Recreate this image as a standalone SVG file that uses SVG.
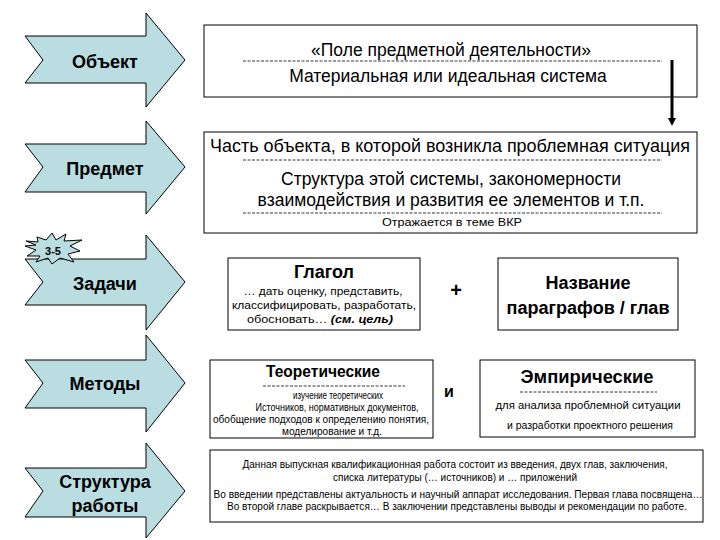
<svg xmlns="http://www.w3.org/2000/svg" width="720" height="540" viewBox="0 0 720 540">
<defs>
<style>
.arr{fill:#b9dde1;stroke:#000;stroke-width:1}
.box{fill:#fff;stroke:#000;stroke-width:1}
.dash{stroke:#000;stroke-width:0.8;stroke-dasharray:3,1.5}
text{font-family:"Liberation Sans",Arial,sans-serif;fill:#000;text-anchor:middle}
.al{font-size:18px;font-weight:bold}
.t18{font-size:17.5px}
.h18{font-size:18px;font-weight:bold}
.s11{font-size:11px}
.s10{font-size:10px}
</style>
<marker id="ah" markerWidth="8" markerHeight="8" refX="4" refY="4" orient="auto" markerUnits="userSpaceOnUse"><path d="M0,0 L8,4 L0,8 Z" fill="#000"/></marker>
</defs>
<rect width="720" height="540" fill="#fff"/>

<g id="arrow-obekt">
<path class="arr" d="M25,36 H146 V13 L185,60 L146,107 V83 H25 L43,60 Z"/>
<text class="al" x="105" y="68">Объект</text>
</g>
<g id="arrow-predmet">
<path class="arr" d="M25,144 H146 V121 L185,167 L146,214 V192 H25 L43,167 Z"/>
<text class="al" x="105" y="175">Предмет</text>
</g>
<g id="arrow-zadachi">
<path class="arr" d="M25,259 H146 V235 L185,282 L146,330 V305 H25 L43,282 Z"/>
<text class="al" x="105" y="290">Задачи</text>
</g>
<g id="star">
<path d="M26,241 L38,242 L37,237 L46,240 L52,233 L56,240 L66,234 L64,241 L82,240 L70,246 L80,251 L68,254 L74,262 L60,258 L52,264 L48,258 L36,262 L40,256 L27,256 L36,250 L25,246 L36,245 Z" fill="#b9dde1" stroke="#000" stroke-width="1"/>
<text x="53" y="255" style="font-size:11px;font-weight:bold">3-5</text>
</g>
<g id="arrow-metody">
<path class="arr" d="M25,360 H146 V335 L185,383 L146,432 V408 H25 L43,383 Z"/>
<text class="al" x="105" y="390">Методы</text>
</g>
<g id="arrow-struktura">
<path class="arr" d="M25,468 H146 V443 L185,491 L146,538 V517 H25 L43,491 Z"/>
<text class="al" x="105" y="488">Структура</text>
<text class="al" x="105" y="512">работы</text>
</g>

<g id="box-object">
<rect class="box" x="204" y="25" width="493" height="72"/>
<text class="t18" x="451" y="56">«Поле предметной деятельности»</text>
<line class="dash" x1="243" y1="61" x2="662" y2="61"/>
<text class="t18" x="448" y="82">Материальная или идеальная система</text>
</g>
<g id="box-predmet">
<rect class="box" x="204" y="132" width="493" height="101"/>
<text class="t18" x="450" y="152" textLength="480" lengthAdjust="spacingAndGlyphs">Часть объекта, в которой возникла проблемная ситуация</text>
<line class="dash" x1="243" y1="160" x2="662" y2="160"/>
<text class="t18" x="451" y="185">Структура этой системы, закономерности</text>
<text class="t18" x="451" y="206">взаимодействия и развития ее элементов и т.п.</text>
<line class="dash" x1="243" y1="213" x2="662" y2="213"/>
<text class="s11" x="452" y="226" textLength="140" lengthAdjust="spacingAndGlyphs">Отражается в теме ВКР</text>
</g>
<g id="box-glagol">
<rect class="box" x="228" y="258" width="192" height="72"/>
<text class="h18" x="324" y="278">Глагол</text>
<text class="s11" x="323" y="295" textLength="159" lengthAdjust="spacingAndGlyphs">… дать оценку, представить,</text>
<text class="s11" x="324" y="309" textLength="184" lengthAdjust="spacingAndGlyphs">классифицировать, разработать,</text>
<text class="s11" x="320" y="323" textLength="146" lengthAdjust="spacingAndGlyphs">обосновать… <tspan font-weight="bold" font-style="italic">(см. цель)</tspan></text>
</g>
<g id="plus"><text x="456" y="297" style="font-size:20px;font-weight:bold">+</text></g>
<g id="box-nazvanie">
<rect class="box" x="498" y="258" width="180" height="72"/>
<text class="h18" x="588" y="289">Название</text>
<text class="h18" x="588" y="314" textLength="163" lengthAdjust="spacingAndGlyphs">параграфов / глав</text>
</g>
<g id="box-teor">
<rect class="box" x="210" y="360" width="223" height="78"/>
<text x="323" y="377" style="font-size:16px;font-weight:bold" textLength="114" lengthAdjust="spacingAndGlyphs">Теоретические</text>
<line class="dash" x1="263" y1="386" x2="405" y2="386"/>
<text class="s10" x="338" y="399" textLength="90" lengthAdjust="spacingAndGlyphs">изучение теоретических</text>
<text class="s10" x="337" y="411" textLength="163" lengthAdjust="spacingAndGlyphs">Источников, нормативных документов,</text>
<text class="s10" x="321" y="423" textLength="216" lengthAdjust="spacingAndGlyphs">обобщение подходов к определению понятия,</text>
<text class="s10" x="332" y="435" textLength="100" lengthAdjust="spacingAndGlyphs">моделирование и т.д.</text>
</g>
<g id="and"><text x="449" y="397" style="font-size:16px;font-weight:bold">и</text></g>
<g id="box-emp">
<rect class="box" x="480" y="360" width="215" height="77"/>
<text class="h18" x="587" y="383" textLength="133" lengthAdjust="spacingAndGlyphs">Эмпирические</text>
<line class="dash" x1="520" y1="392" x2="657" y2="392"/>
<text class="s10" x="588" y="409" textLength="185" lengthAdjust="spacingAndGlyphs">для анализа проблемной ситуации</text>
<text class="s10" x="590" y="429" textLength="166" lengthAdjust="spacingAndGlyphs">и разработки проектного решения</text>
</g>
<g id="box-structure">
<rect class="box" x="210" y="450" width="493" height="72"/>
<text class="s10" x="455" y="468" textLength="425" lengthAdjust="spacingAndGlyphs">Данная выпускная квалификационная работа состоит из введения, двух глав, заключения,</text>
<text class="s10" x="455" y="481" textLength="244" lengthAdjust="spacingAndGlyphs">списка литературы (… источников) и … приложений</text>
<text class="s10" x="458" y="498" textLength="489" lengthAdjust="spacingAndGlyphs">Во введении представлены актуальность и научный аппарат исследования. Первая глава посвящена…</text>
<text class="s10" x="457" y="510" textLength="460" lengthAdjust="spacingAndGlyphs">Во второй главе раскрывается… В заключении представлены выводы и рекомендации по работе.</text>
</g>

<g id="connectors">
<line x1="672" y1="60" x2="672" y2="122" stroke="#000" stroke-width="3" marker-end="url(#ah)"/>
</g>
</svg>
